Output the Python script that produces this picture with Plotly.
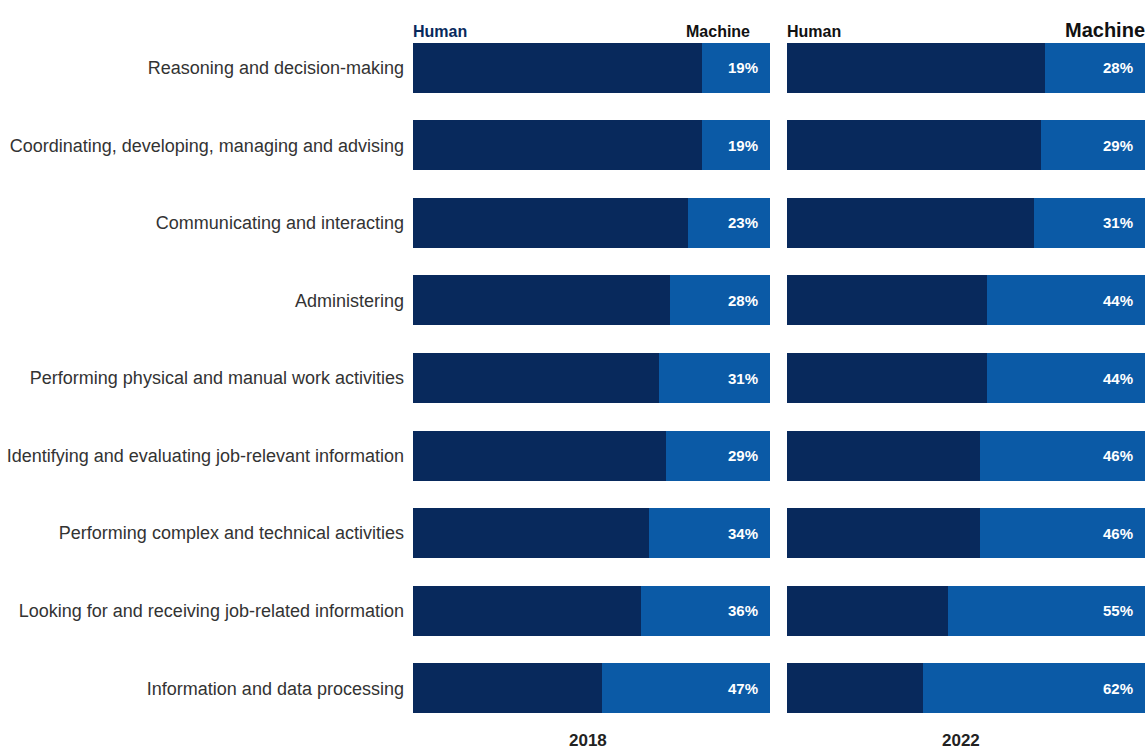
import plotly.graph_objects as go

categories = [
    "Reasoning and decision-making",
    "Coordinating, developing, managing and advising",
    "Communicating and interacting",
    "Administering",
    "Performing physical and manual work activities",
    "Identifying and evaluating job-relevant information",
    "Performing complex and technical activities",
    "Looking for and receiving job-related information",
    "Information and data processing",
]
machine_2018 = [19, 19, 23, 28, 31, 29, 34, 36, 47]
machine_2022 = [28, 29, 31, 44, 44, 46, 46, 55, 62]
human_2018 = [100 - v for v in machine_2018]
human_2022 = [100 - v for v in machine_2022]
years = ["2018", "2022"]

DARK = "#08295c"
BLUE = "#0b5aa6"
FONT = "Liberation Sans Narrow, Arial Narrow, Liberation Sans, Arial, sans-serif"

fig = go.Figure()
for xa, hum, mac in [("x", human_2018, machine_2018), ("x2", human_2022, machine_2022)]:
    fig.add_trace(go.Bar(y=categories, x=hum, orientation="h", xaxis=xa, yaxis="y",
                         marker=dict(color=DARK, line=dict(width=0)), name="Human",
                         showlegend=False, hoverinfo="skip"))
    fig.add_trace(go.Bar(y=categories, x=mac, orientation="h", xaxis=xa, yaxis="y",
                         marker=dict(color=BLUE, line=dict(width=0)), name="Machine",
                         showlegend=False, hoverinfo="skip"))

annotations = []
for xa, mac in [("x", machine_2018), ("x2", machine_2022)]:
    for cat, v in zip(categories, mac):
        annotations.append(dict(x=100, y=cat, xref=xa, yref="y", text=f"<b>{v}%</b>",
                                showarrow=False, xanchor="right", xshift=-10,
                                font=dict(family=FONT, size=15, color="white")))

# panel headers
annotations += [
    dict(x=0, y=1, xref="x domain", yref="paper", text="<b>Human</b>", showarrow=False,
         xanchor="left", yanchor="bottom", yshift=-13, xshift=-2,
         font=dict(family=FONT, size=16, color=DARK)),
    dict(x=1, y=1, xref="x domain", yref="paper", text="<b>Machine</b>", showarrow=False,
         xanchor="right", yanchor="bottom", yshift=-13, xshift=-18,
         font=dict(family=FONT, size=16, color="#111111")),
    dict(x=0, y=1, xref="x2 domain", yref="paper", text="<b>Human</b>", showarrow=False,
         xanchor="left", yanchor="bottom", yshift=-13, xshift=-2,
         font=dict(family=FONT, size=16, color="#111111")),
    dict(x=1, y=1, xref="x2 domain", yref="paper", text="<b>Machine</b>", showarrow=False,
         xanchor="right", yanchor="bottom", yshift=-14, xshift=2,
         font=dict(family=FONT, size=20, color="#111111")),
    dict(x=0.5, y=0, xref="x domain", yref="paper", text=f"<b>{years[0]}</b>", showarrow=False,
         xanchor="center", yanchor="top", yshift=-2, xshift=-4,
         font=dict(family=FONT, size=17, color="#222222")),
    dict(x=0.5, y=0, xref="x2 domain", yref="paper", text=f"<b>{years[1]}</b>", showarrow=False,
         xanchor="center", yanchor="top", yshift=-2, xshift=-5,
         font=dict(family=FONT, size=17, color="#222222")),
]

fig.update_layout(
    width=1145, height=750,
    margin=dict(l=413, r=0, t=29, b=23),
    paper_bgcolor="white", plot_bgcolor="white",
    barmode="stack", bargap=0.355,
    xaxis=dict(domain=[0, 357 / 732], range=[0, 100], visible=False, fixedrange=True),
    xaxis2=dict(domain=[374 / 732, 1], range=[0, 100], visible=False, fixedrange=True),
    yaxis=dict(autorange="reversed", showgrid=False, zeroline=False, showline=False,
               ticks="", ticklabelstandoff=8,
               tickfont=dict(family=FONT, size=18, color="#333333")),
    annotations=annotations,
)

fig.write_html("out.html")
